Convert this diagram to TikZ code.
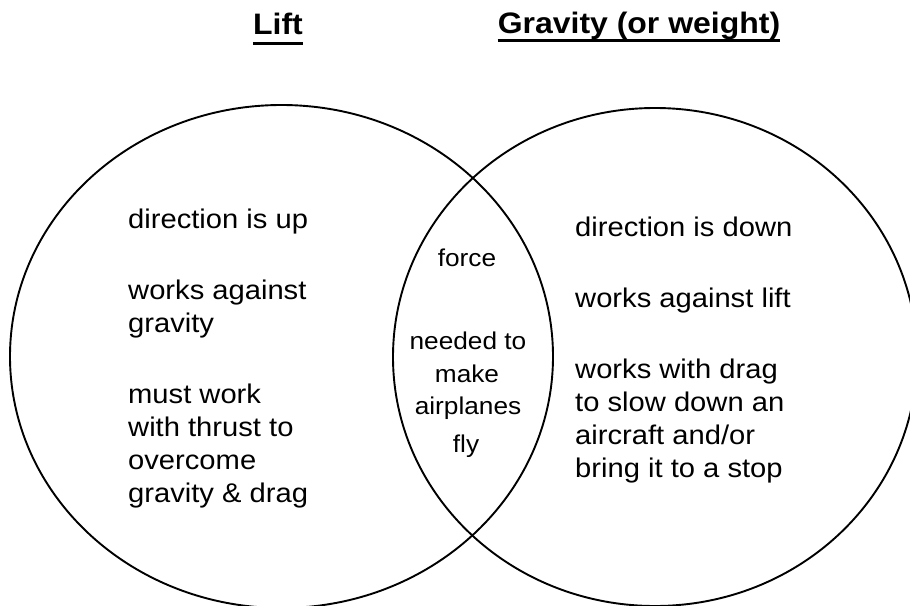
\documentclass[tikz,border=0pt]{standalone}
\usepackage{fontspec}
\setmainfont{Liberation Sans}[FakeStretch=1.08]
\begin{document}
\begin{tikzpicture}[x=1pt,y=-1pt,
  ring/.style={line width=1.9pt},
  txt/.style={anchor=base west,inner sep=0pt,font=\fontsize{27}{33}\selectfont},
  mid/.style={anchor=base,inner sep=0pt,font=\fontsize{24.3}{30}\selectfont},
  ttl/.style={anchor=base,inner sep=0pt,font=\fontsize{29.6}{34}\selectfont\bfseries},
  uline/.style={line width=3pt}]
\useasboundingbox (0,0) rectangle (910,605);
\clip (0,0) rectangle (910,605);
% circles
\draw[ring] (281.5,356.5) ellipse [x radius=271.5pt, y radius=251.5pt];
\draw[ring] (655,357) ellipse [x radius=262pt, y radius=249pt];
% titles
\node[ttl] (tlift) at (278,34) {Lift};
\node[ttl] (tgrav) at (639,33) {Gravity (or weight)};
\draw[uline] ([yshift=-9.5pt]tlift.base west) -- ([yshift=-9.5pt]tlift.base east);
\draw[uline] ([yshift=-7.5pt]tgrav.base west) -- ([yshift=-7.5pt]tgrav.base east);
% left
\node[txt] (l1) at (128,228) {direction is up};
\node[txt] (l2) at (128,299) {works against};
\node[txt] (l3) at (128,332) {gravity};
\node[txt] (l4) at (128,403) {must work};
\node[txt] (l5) at (128,436) {with thrust to};
\node[txt] (l6) at (128,469) {overcome};
\node[txt] (l7) at (128,502) {gravity \& drag};
% right
\node[txt] (r1) at (575,236) {direction is down};
\node[txt] (r2) at (575,307) {works against lift};
\node[txt] (r3) at (575,378) {works with drag};
\node[txt] (r4) at (575,411) {to slow down an};
\node[txt] (r5) at (575,444) {aircraft and/or};
\node[txt] (r6) at (575,477) {bring it to a stop};
% middle
\node[mid] (m1) at (467,266) {force};
\node[mid] (m2) at (468,349) {needed to};
\node[mid] (m3) at (467,382) {make};
\node[mid] (m4) at (468,414) {airplanes};
\node[mid] (m5) at (466,452) {fly};
\end{tikzpicture}
\end{document}
